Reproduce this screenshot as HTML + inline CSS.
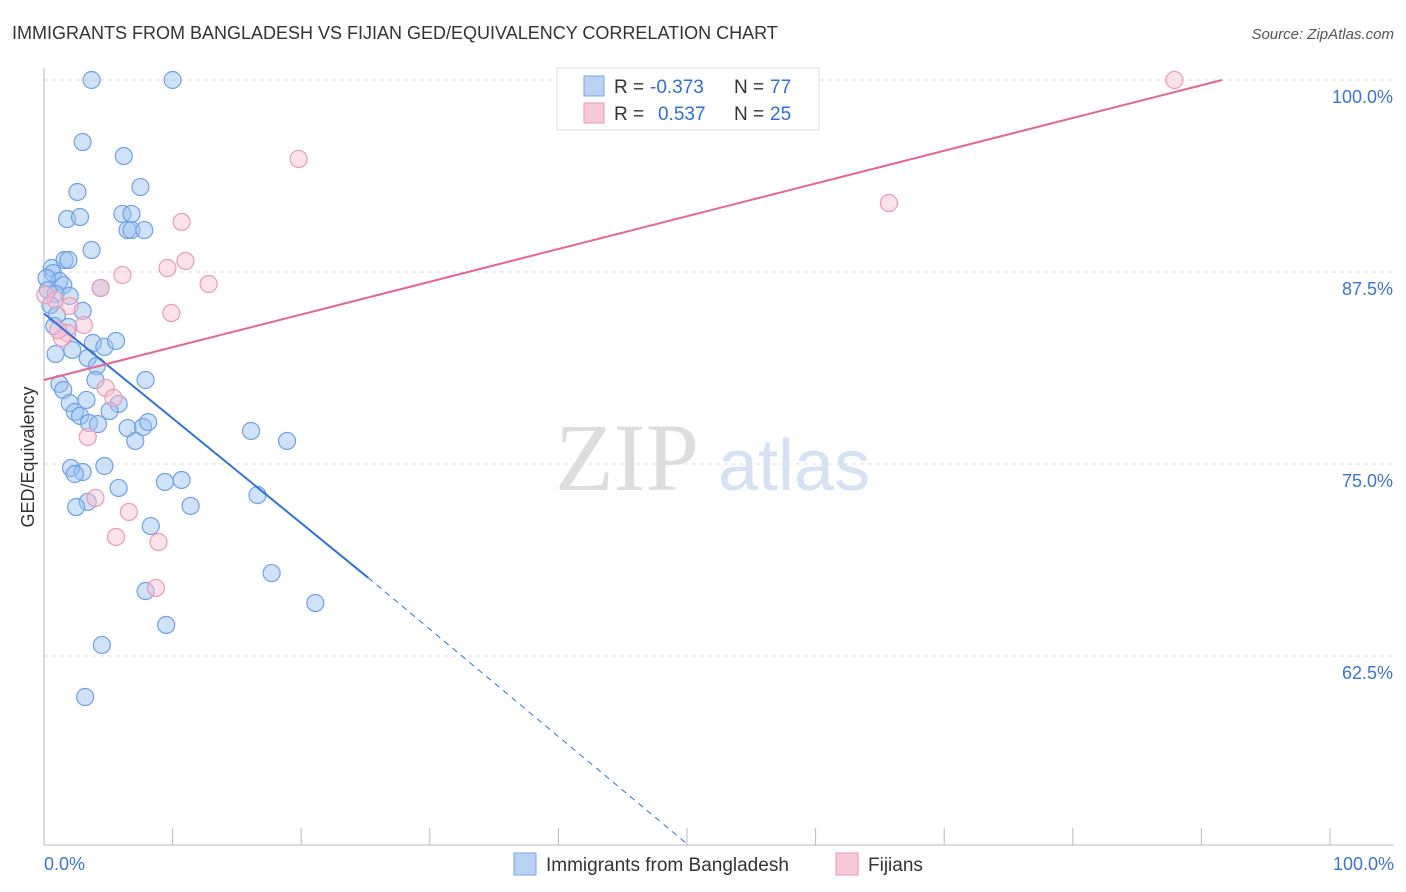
<!DOCTYPE html>
<html><head><meta charset="utf-8"><style>
body{margin:0;background:#fff;font-family:"Liberation Sans",sans-serif}
svg{display:block}
</style></head><body>
<svg width="1406" height="892" xmlns="http://www.w3.org/2000/svg">
<text x="12" y="39" font-size="18" fill="#333">IMMIGRANTS FROM BANGLADESH VS FIJIAN GED/EQUIVALENCY CORRELATION CHART</text>
<text x="1394" y="39" font-size="15" fill="#555" font-style="italic" text-anchor="end">Source: ZipAtlas.com</text>
<text x="555" y="490" font-size="96" fill="#ddd" font-family="Liberation Serif,serif">ZIP</text>
<text x="718" y="490" font-size="72" fill="#d4e2f4">atlas</text>
<g id="grid"></g>
<g id="axes"></g>
<g id="marks"></g>
<text transform="translate(34,457) rotate(-90)" font-size="18" fill="#333" text-anchor="middle">GED/Equivalency</text>
<g>
<rect x="557" y="68" width="262" height="62" fill="#fff" stroke="#ddd"/>
<rect x="584" y="76" width="20" height="20" fill="#b9d2f3" stroke="#7aa7e6"/>
<rect x="584" y="103" width="20" height="20" fill="#f8c8d6" stroke="#ec9ab4"/>
<text x="614" y="93" font-size="19" fill="#333">R = </text><text x="650" y="93" font-size="19" fill="#2f6fd6">-0.373</text>
<text x="734" y="93" font-size="19" fill="#333">N = </text><text x="770" y="93" font-size="19" fill="#2f6fd6">77</text>
<text x="614" y="120" font-size="19" fill="#333">R = </text><text x="658" y="120" font-size="19" fill="#2f6fd6">0.537</text>
<text x="734" y="120" font-size="19" fill="#333">N = </text><text x="770" y="120" font-size="19" fill="#2f6fd6">25</text>
</g>
<g>
<rect x="514" y="853" width="22" height="22" fill="#b9d2f3" stroke="#7aa7e6"/>
<text x="546" y="871" font-size="19" fill="#333">Immigrants from Bangladesh</text>
<rect x="836" y="853" width="22" height="22" fill="#f8c8d6" stroke="#ec9ab4"/>
<text x="868" y="871" font-size="19" fill="#333">Fijians</text>
</g>
</svg>
<script>
const yTicks=[100,87.5,75,62.5];
const yTickLabels=["100.0%","87.5%","75.0%","62.5%"];
const xTickLabels=["0.0%","100.0%"];
const blueX=[3.7,10.0,3.0,6.2,7.5,2.6,1.8,2.8,6.1,6.8,6.5,6.8,7.8,3.7,1.6,1.9,0.6,0.7,1.2,0.2,1.5,0.3,0.9,2.0,4.4,3.0,0.5,1.0,0.8,1.9,3.8,4.7,5.6,0.9,2.2,3.4,4.1,4.0,7.9,1.2,1.5,2.0,3.3,5.8,5.1,2.4,2.8,3.5,4.2,6.5,7.7,8.1,7.1,16.1,18.9,4.7,2.1,3.0,2.4,5.8,9.4,10.7,16.6,3.4,2.5,11.4,8.3,17.7,21.1,7.9,9.5,4.5,3.2];
const blueY=[100,100,95.96,95.05,93.03,92.71,90.95,91.08,91.28,91.28,90.23,90.23,90.23,88.93,88.28,88.28,87.76,87.43,86.91,87.11,86.65,86.33,86.07,85.94,86.46,84.97,85.35,84.70,83.98,83.92,82.88,82.62,83.01,82.16,82.42,81.90,81.38,80.47,80.47,80.21,79.82,78.97,79.17,78.91,78.45,78.39,78.13,77.67,77.60,77.34,77.41,77.73,76.50,77.15,76.50,74.87,74.74,74.48,74.35,73.44,73.83,73.96,72.98,72.53,72.20,72.27,70.96,67.90,65.95,66.73,64.52,63.22,59.83];
const pinkX=[87.9,19.8,65.7,10.7,11.0,9.6,6.1,12.8,4.4,0.9,2.0,9.9,3.1,1.8,1.4,4.8,5.4,3.4,4.0,6.6,5.6,8.9,8.7,1.1,0.1];
const pinkY=[100,94.86,91.99,90.76,88.22,87.76,87.30,86.72,86.46,85.68,85.29,84.83,84.05,83.53,83.20,79.95,79.30,76.76,72.79,71.88,70.25,69.92,66.93,83.72,86.0];
const blueTrend=[[0,84.8],[25.2,67.6],[50.1,50.2]];
const pinkTrend=[[0,80.47],[91.6,100]];
const NS="http://www.w3.org/2000/svg";
const X=v=>44+v*12.86, Y=v=>80+(100-v)*15.36;
function mk(tag,attrs,parent){const e=document.createElementNS(NS,tag);for(const k in attrs)e.setAttribute(k,attrs[k]);document.getElementById(parent).appendChild(e);return e;}
yTicks.forEach((t,i)=>{
 const l=mk('line',{x1:44,x2:1394,y1:Y(t),y2:Y(t),stroke:'#ddd','stroke-dasharray':'4,4'},'grid');
 
 
 const tx=mk('text',{x:1393,y:Y(t)+23,'font-size':18,fill:'#3b73d6','text-anchor':'end'},'grid');
 tx.textContent=yTickLabels[i];
 
 
});
let a=mk('line',{x1:44,x2:44,y1:68,y2:845,stroke:'#bbb'},'axes');


a=mk('line',{x1:44,x2:1394,y1:845,y2:845,stroke:'#bbb'},'axes');


for(let i=0;i<=10;i++){const t=mk('line',{x1:X(i*10),x2:X(i*10),y1:828,y2:845,stroke:'#bbb'},'axes');
 
 }
[[0,'start',44],[100,'end',1394]].forEach((d,i)=>{const t=mk('text',{x:d[0]==0?X(0):1394,y:870,'font-size':18,fill:'#3b73d6','text-anchor':d[1]},'axes');t.textContent=xTickLabels[i];
 
 });
blueX.forEach((x,i)=>{const c=mk('circle',{cx:X(x),cy:Y(blueY[i]),r:8.5,fill:'rgba(150,190,240,0.45)',stroke:'#6fa0e6','stroke-width':1.2},'marks');
 
 });
pinkX.forEach((x,i)=>{const c=mk('circle',{cx:X(x),cy:Y(pinkY[i]),r:8.5,fill:'rgba(248,190,208,0.45)',stroke:'#ec9ab4','stroke-width':1.2},'marks');
 
 });
let t=mk('line',{x1:X(blueTrend[0][0]),y1:Y(blueTrend[0][1]),x2:X(blueTrend[1][0]),y2:Y(blueTrend[1][1]),stroke:'#2f72d8','stroke-width':2},'marks');


t=mk('line',{x1:X(blueTrend[1][0]),y1:Y(blueTrend[1][1]),x2:X(blueTrend[2][0]),y2:Y(blueTrend[2][1]),stroke:'#2f72d8','stroke-width':1,'stroke-dasharray':'6,5'},'marks');


t=mk('line',{x1:X(pinkTrend[0][0]),y1:Y(pinkTrend[0][1]),x2:X(pinkTrend[1][0]),y2:Y(pinkTrend[1][1]),stroke:'#e66592','stroke-width':2},'marks');


</script>
</body></html>
